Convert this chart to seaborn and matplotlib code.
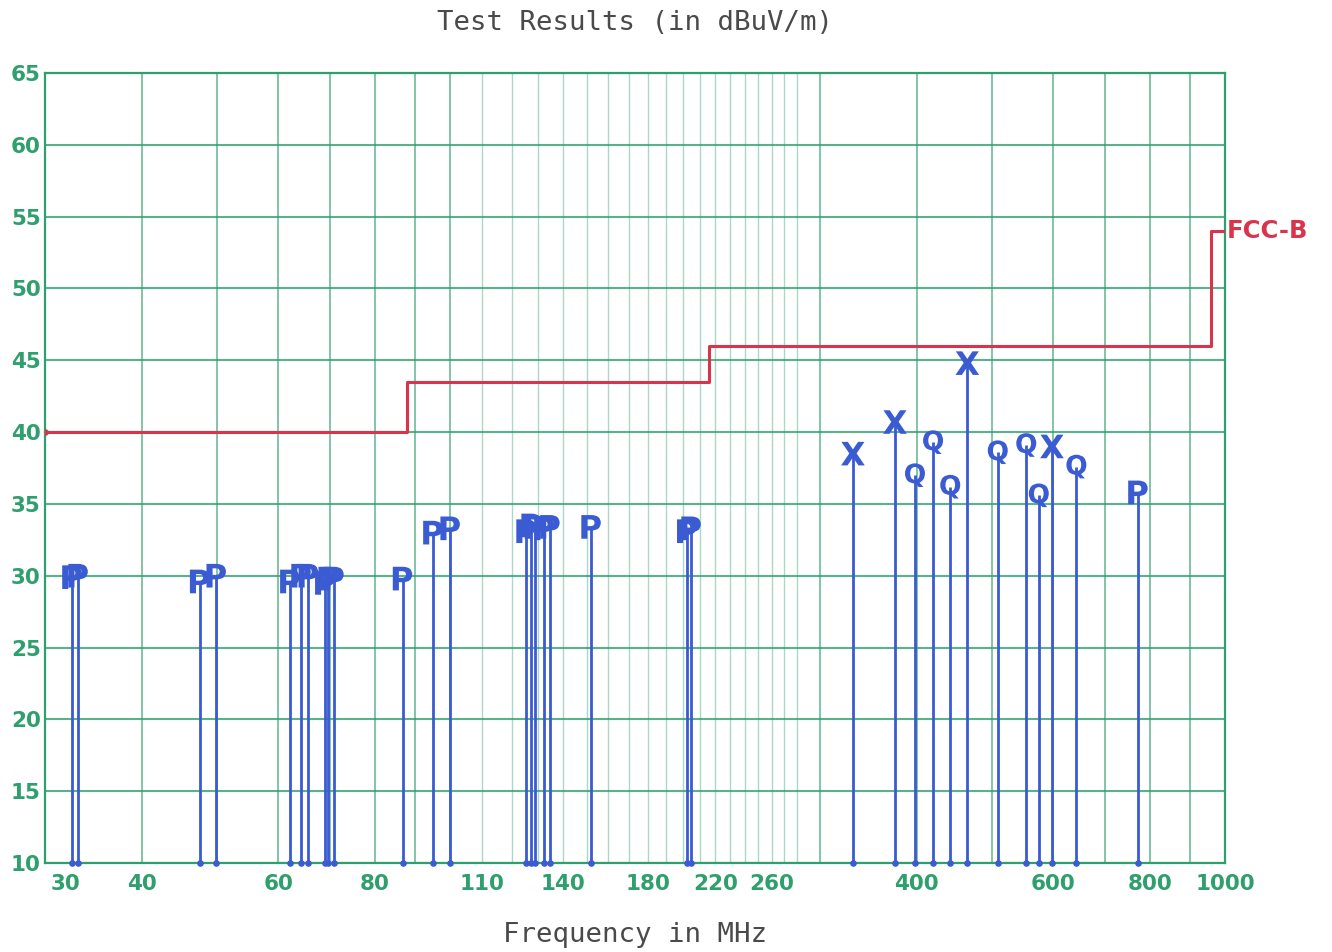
import numpy as np
import pandas as pd
import matplotlib
matplotlib.use("Agg")
import matplotlib.pyplot as plt
import matplotlib.transforms as mtransforms
import seaborn as sns

# ---- data ----
p_freq = [32.5, 33.1, 47.5, 49.9, 62.1, 64.2, 65.6, 68.9, 69.6, 70.8, 86.8,
          95.0, 100.0, 125.3, 127.2, 128.5, 132.2, 134.5, 152.0, 202.0, 204.6, 772.0]
p_level = [29.9, 30.0, 29.6, 30.0, 29.6, 30.0, 30.0, 29.5, 29.8, 29.8, 29.8,
           33.0, 33.3, 33.1, 33.5, 33.4, 33.3, 33.4, 33.4, 33.1, 33.3, 35.8]
q_freq = [398, 420, 442, 509, 554, 575, 643]
q_level = [37.0, 39.3, 36.2, 38.6, 39.1, 35.6, 37.6]
x_freq = [331, 375, 465, 598]
x_level = [38.5, 40.7, 44.8, 39.0]

limit_freq = [30, 88, 216, 960, 1000]
limit_level = [40, 43.5, 46, 54, 54]
limit_name = "FCC-B"

xtick_values = [30, 40, 60, 80, 110, 140, 180, 220, 260, 400, 600, 800, 1000]
ytick_values = list(range(10, 70, 5))
grid_major = [30, 40, 50, 60, 70, 80, 90, 100, 300, 400, 500, 600, 700, 800, 900, 1000]
grid_fine = [110, 120, 130, 140, 150, 160, 170, 180, 190, 200, 210, 220, 230,
             240, 250, 260, 270, 280]

df = pd.DataFrame({
    "freq": p_freq + q_freq + x_freq,
    "level": p_level + q_level + x_level,
    "kind": ["P"] * len(p_freq) + ["Q"] * len(q_freq) + ["X"] * len(x_freq),
})

GREEN = "#2f9f6e"
BLUE = "#3a5bd2"
RED = "#d8344c"

sns.set_theme(style="white")
plt.rcParams["font.family"] = ["DejaVu Sans"]

fig = plt.figure(figsize=(13.32, 9.52), dpi=100)
ax = fig.add_axes([45 / 1332, 1 - 863 / 952, 1180 / 1332, 790 / 952])
ax.set_xscale("log")
ax.set_xlim(30, 1000)
ax.set_ylim(10, 65)

# grid
for g in grid_major:
    ax.axvline(g, color=GREEN, lw=1.3, alpha=0.65, zorder=0)
for g in grid_fine:
    ax.axvline(g, color=GREEN, lw=1.0, alpha=0.4, zorder=0)
for g in ytick_values:
    ax.axhline(g, color=GREEN, lw=1.5, alpha=0.8, zorder=0)

# limit line
ax.plot(limit_freq, limit_level, drawstyle="steps-post", color=RED, lw=2.2, zorder=3)
ax.scatter([limit_freq[0]], [limit_level[0]], color=RED, s=14, zorder=3)
ax.text(limit_freq[-1] * 1.004, limit_level[-1], limit_name, color=RED,
        fontsize=17.5, fontweight="bold", ha="left", va="center", clip_on=False)

# stems
ax.vlines(df["freq"], 10, df["level"], color=BLUE, lw=2.0, zorder=4)
ax.scatter(df["freq"], [10] * len(df), color=BLUE, s=14, zorder=4, clip_on=False)

# markers
sns.scatterplot(data=df, x="freq", y="level", style="kind",
                markers={"P": r"$\mathbf{P}$", "Q": r"$\mathbf{Q}$", "X": r"$\mathbf{X}$"},
                color=BLUE, s=290, linewidth=0, legend=False, ax=ax, zorder=5)

# ticks
ax.set_xticks(xtick_values)
ax.set_xticklabels([str(v) for v in xtick_values])
ax.xaxis.set_minor_locator(matplotlib.ticker.NullLocator())
ax.set_yticks(ytick_values)
ax.set_yticklabels([str(v) for v in ytick_values])
ax.tick_params(axis="both", length=0, colors=GREEN, labelsize=15.5)
ax.tick_params(axis="x", pad=8)
ax.tick_params(axis="y", pad=3)
for lab in ax.get_xticklabels() + ax.get_yticklabels():
    lab.set_fontweight("bold")
    lab.set_color(GREEN)
first_tick = ax.xaxis.get_major_ticks()[0]
first_tick.label1.set_horizontalalignment("left")
first_tick.label1.set_transform(first_tick.label1.get_transform() +
                                mtransforms.ScaledTranslation(4 / 72, 0, fig.dpi_scale_trans))

for s in ax.spines.values():
    s.set_color(GREEN)
    s.set_linewidth(1.6)

ax.set_title("Test Results (in dBuV/m)", family="DejaVu Sans Mono", fontsize=19.7,
             color="#4a4a4a", pad=31)
ax.set_xlabel("Frequency in MHz", family="DejaVu Sans Mono", fontsize=19.7,
              color="#4a4a4a", labelpad=20)
ax.set_ylabel("")

fig.savefig("out.png", dpi=100, facecolor="white")
